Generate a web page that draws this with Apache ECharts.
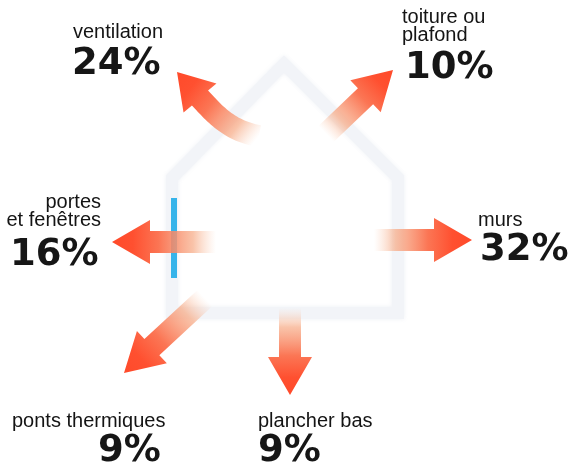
<!DOCTYPE html>
<html><head><meta charset="utf-8">
<script src="https://cdn.jsdelivr.net/npm/echarts@6/dist/echarts.min.js"></script>
<style>html,body{margin:0;padding:0;background:#fff}#c{width:571px;height:470px}</style>
</head><body><div id="c"></div>
<script>
// ---- data ----
const categories = ['ventilation', 'toiture ou\nplafond', 'murs', 'portes\net fenêtres', 'ponts thermiques', 'plancher bas'];
const values = [24, 10, 32, 16, 9, 9];

// ---- layout (positions on hidden 571x470 axes) ----
const arrowLayout = [
  { curve: [[259, 136], [229, 131], [214, 113], [200, 98]], tip: [177, 72] },
  { tail: [326, 134], tip: [393, 70] },
  { tail: [374, 240], tip: [472, 240] },
  { tail: [216, 242], tip: [112, 242] },
  { tail: [205, 298], tip: [124, 373] },
  { tail: [290, 308], tip: [290, 395] }
];
const labelLayout = [
  { name: [73, 32.5, 'left'], value: [72, 64] },
  { name: [402, 17.5, 'left'], value: [405, 68] },
  { name: [478, 220.5, 'left'], value: [480, 250] },
  { name: [101, 202.5, 'right'], value: [10, 255] },
  { name: [12, 421.5, 'left'], value: [98, 451] },
  { name: [258, 421.5, 'left'], value: [258, 451] }
];
const houseOutline = [[284, 64], [398, 178], [398, 313], [172, 313], [172, 178]];
const windowBar = [[174, 198], [174, 278]];

const chart = echarts.init(document.getElementById('c'), null, { renderer: 'canvas' });

function renderHouse(params, api) {
  const pts = houseOutline.map(p => api.coord(p));
  const w = windowBar.map(p => api.coord(p));
  return {
    type: 'group',
    children: [
      { type: 'polygon', shape: { points: pts }, style: { fill: null, stroke: '#f2f4f8', lineWidth: 12, lineJoin: 'miter', shadowBlur: 4, shadowColor: 'rgba(235,238,244,0.9)' } },
      { type: 'line', shape: { x1: w[0][0], y1: w[0][1], x2: w[1][0], y2: w[1][1] }, style: { stroke: '#36b4ea', lineWidth: 6 } }
    ]
  };
}

function renderArrow(params, api) {
  const i = api.value(0);
  const L = arrowLayout[i];
  const P = p => api.coord(p);
  const tip = P(L.tip);
  const headLen = 38, halfHead = 22, halfShaft = 11;
  let center;
  if (L.curve) {
    const c = L.curve.map(P);
    center = [];
    const n = 30;
    for (let k = 0; k <= n; k++) {
      const t = k / n, m = 1 - t;
      center.push([
        m * m * m * c[0][0] + 3 * m * m * t * c[1][0] + 3 * m * t * t * c[2][0] + t * t * t * c[3][0],
        m * m * m * c[0][1] + 3 * m * m * t * c[1][1] + 3 * m * t * t * c[2][1] + t * t * t * c[3][1]
      ]);
    }
  } else {
    const t = P(L.tail);
    const dx = tip[0] - t[0], dy = tip[1] - t[1], len = Math.hypot(dx, dy);
    center = [t, [tip[0] - dx / len * headLen, tip[1] - dy / len * headLen]];
  }
  const left = [], right = [];
  center.forEach((p, k) => {
    const a = center[Math.max(0, k - 1)], b = center[Math.min(center.length - 1, k + 1)];
    let tx = b[0] - a[0], ty = b[1] - a[1];
    const l = Math.hypot(tx, ty); tx /= l; ty /= l;
    left.push([p[0] - ty * halfShaft, p[1] + tx * halfShaft]);
    right.push([p[0] + ty * halfShaft, p[1] - tx * halfShaft]);
  });
  const base = center[center.length - 1];
  let hx = tip[0] - base[0], hy = tip[1] - base[1];
  const hl = Math.hypot(hx, hy); hx /= hl; hy /= hl;
  const pts = left.concat(
    [[base[0] - hy * halfHead, base[1] + hx * halfHead], tip, [base[0] + hy * halfHead, base[1] - hx * halfHead]],
    right.reverse()
  );
  const tail = center[0];
  const grad = {
    type: 'linear', global: true,
    x: tail[0], y: tail[1], x2: tip[0], y2: tip[1],
    colorStops: [
      { offset: 0, color: 'rgba(250,205,180,0)' },
      { offset: 0.22, color: 'rgba(247,175,140,0.75)' },
      { offset: 0.55, color: 'rgba(251,110,75,0.95)' },
      { offset: 0.8, color: '#ff5030' },
      { offset: 1, color: '#ff4a2a' }
    ]
  };
  const lab = labelLayout[i];
  const children = [{ type: 'polygon', shape: { points: pts }, style: { fill: grad } }];
  const lines = categories[i].split('\n');
  const np = api.coord([lab.name[0], lab.name[1]]);
  lines.forEach((ln, k) => {
    children.push({
      type: 'text', x: np[0], y: np[1] + k * 18,
      style: { text: ln, fontSize: 20, fontFamily: '"Liberation Sans", Arial, sans-serif', fill: '#141414', align: lab.name[2], verticalAlign: 'middle' }
    });
  });
  const vp = api.coord(lab.value);
  children.push({
    type: 'text', x: vp[0], y: vp[1],
    style: { text: api.value(1) + '%', fontSize: 37, fontWeight: 'bold', fontFamily: '"DejaVu Sans", Verdana, sans-serif', fill: '#161616', align: 'left', verticalAlign: 'middle' }
  });
  return { type: 'group', children };
}

chart.setOption({
  backgroundColor: '#ffffff',
  animation: false,
  grid: { left: 0, right: 0, top: 0, bottom: 0 },
  xAxis: { type: 'value', min: 0, max: 571, show: false },
  yAxis: { type: 'value', min: 0, max: 470, inverse: true, show: false },
  series: [
    { type: 'custom', renderItem: renderHouse, data: [[0, 0]], silent: true, z: 1 },
    { type: 'custom', renderItem: renderArrow, data: categories.map((c, i) => [i, values[i]]), z: 2 }
  ]
});
</script>
</body></html>
